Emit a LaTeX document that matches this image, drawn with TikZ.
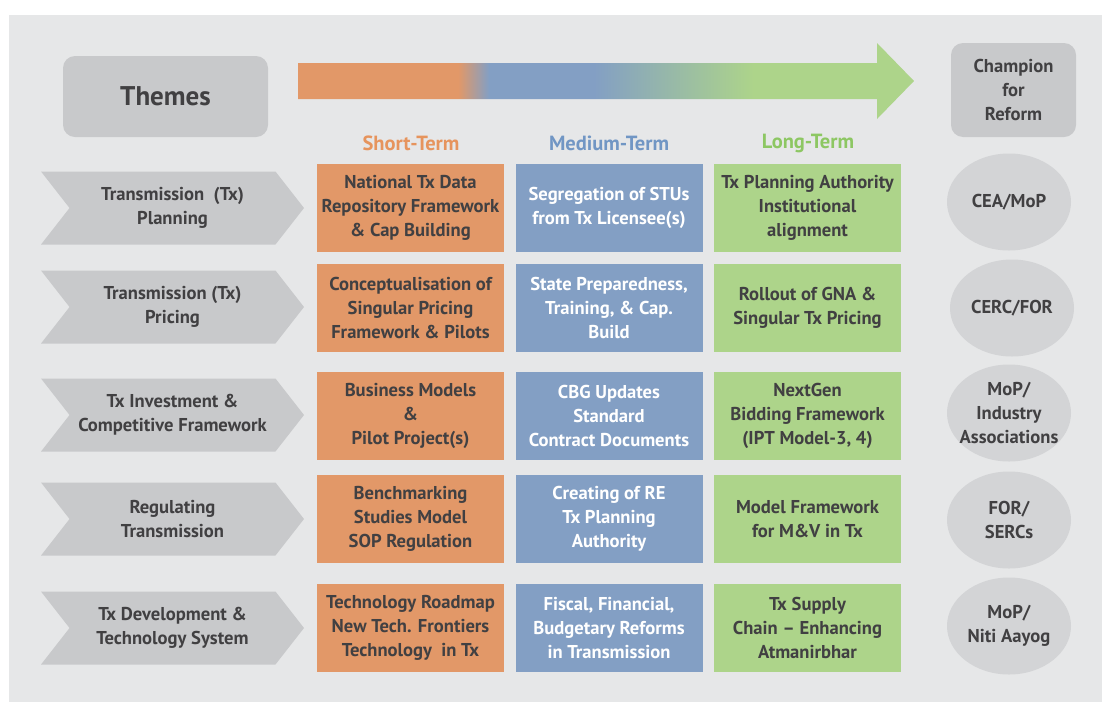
\documentclass[tikz,border=0pt]{standalone}
\usepackage{fontspec}
\setmainfont{PT Sans}
\usetikzlibrary{positioning,shapes.geometric,shapes.symbols}
\definecolor{bggray}{HTML}{E6E7E8}
\definecolor{txtgray}{HTML}{414042}
\definecolor{chevgray}{HTML}{C8C9CB}
\definecolor{ovalgray}{HTML}{D3D4D6}
\definecolor{shortor}{HTML}{E29868}
\definecolor{medblue}{HTML}{839FC4}
\definecolor{longgr}{HTML}{ADD48A}
\definecolor{shorthead}{HTML}{E6945D}
\definecolor{medhead}{HTML}{7196C4}
\definecolor{longhead}{HTML}{8DC763}
\pgfdeclarehorizontalshading{termshade}{100bp}{color(0bp)=(shortor); color(38bp)=(shortor); color(40.5bp)=(medblue); color(49bp)=(medblue); color(62bp)=(longgr); color(100bp)=(longgr)}

\tikzset{
  every node/.style={font=\bfseries\fontsize{18.6}{24}\selectfont, align=center, text=txtgray},
  theme/.style={signal, signal to=east, signal from=west, signal pointer angle=104,
    fill=chevgray, minimum width=263pt, minimum height=73pt, inner sep=0pt},
  cell/.style={minimum width=187pt, minimum height=88pt, inner sep=0pt},
  shortcell/.style={cell, fill=shortor},
  medcell/.style={cell, fill=medblue, text=white},
  longcell/.style={cell, fill=longgr},
  champ/.style={ellipse, fill=ovalgray, minimum width=124pt, minimum height=97pt, inner sep=-8pt},
  head/.style={font=\bfseries\fontsize{20.5}{24}\selectfont},
  titlebox/.style={rounded corners=12pt, fill=chevgray}
}

\begin{document}
\begin{tikzpicture}[x=1pt,y=-1pt]
\useasboundingbox (0,0) rectangle (1102,702);
\fill [bggray] (9,15) rectangle (1102,702);

% header
\node [titlebox, minimum width=205pt, minimum height=81pt, font=\bfseries\fontsize{27}{30}\selectfont] (themes) at (165.5,96.5) {Themes};
\shade [shading=termshade] (298,63) -- (877,63) -- (877,43) -- (914,81) -- (877,119) -- (877,99) -- (298,99) -- cycle;
\node [titlebox, minimum width=125pt, minimum height=94pt] (champion) at (1013.5,90) {Champion\\for\\Reform};

\node [head, text=shorthead] (short) at (411,143) {Short-Term};
\node [head, text=medhead] (medium) at (609,143) {Medium-Term};
\node [head, text=longhead] (long) at (808,143) {Long-Term};

% row 1
\node [theme] (t1) at (172.5,208) {Transmission\ \ (Tx)\\Planning};
\node [shortcell] (s1) at (410.5,208) {National Tx Data\\Repository Framework\\\& Cap Building};
\node [medcell] (m1) at (609,208) {Segregation of STUs\\from Tx Licensee(s)};
\node [longcell] (l1) at (807.5,208) {Tx Planning Authority\\Institutional\\alignment};
\node [champ] (c1) at (1009,202) {CEA/MoP};

% row 2
\node [theme] (t2) at (172.5,307) {Transmission (Tx)\\Pricing};
\node [shortcell] (s2) at (410.5,308) {Conceptualisation of\\Singular Pricing\\Framework \& Pilots};
\node [medcell] (m2) at (609,308) {State Preparedness,\\Training, \& Cap.\\Build};
\node [longcell] (l2) at (807.5,308) {Rollout of GNA \&\\Singular Tx Pricing};
\node [champ] (c2) at (1012,308) {CERC/FOR};

% row 3
\node [theme] (t3) at (172.5,415) {Tx Investment \&\\Competitive Framework};
\node [shortcell] (s3) at (410.5,416) {Business Models\\\&\\Pilot Project(s)};
\node [medcell] (m3) at (609,416) {CBG Updates\\Standard\\Contract Documents};
\node [longcell] (l3) at (807.5,416) {NextGen\\Bidding Framework\\(IPT Model-3, 4)};
\node [champ] (c3) at (1009,413) {MoP/\\Industry\\Associations};

% row 4
\node [theme] (t4) at (172.5,519) {Regulating\\Transmission};
\node [shortcell] (s4) at (410.5,519) {Benchmarking\\Studies Model\\SOP Regulation};
\node [medcell] (m4) at (609,519) {Creating of RE\\Tx Planning\\Authority};
\node [longcell] (l4) at (807.5,519) {Model Framework\\for M\&V in Tx};
\node [champ] (c4) at (1009,520) {FOR/\\SERCs};

% row 5
\node [theme] (t5) at (172.5,628) {Tx Development \&\\Technology System};
\node [shortcell] (s5) at (410.5,628) {Technology Roadmap\\New Tech. Frontiers\\Technology\ \ in Tx};
\node [medcell] (m5) at (609,628) {Fiscal, Financial,\\Budgetary Reforms\\in Transmission};
\node [longcell] (l5) at (807.5,628) {Tx Supply\\Chain -- Enhancing\\Atmanirbhar};
\node [champ] (c5) at (1009,626) {MoP/\\Niti Aayog};
\end{tikzpicture}
\end{document}
